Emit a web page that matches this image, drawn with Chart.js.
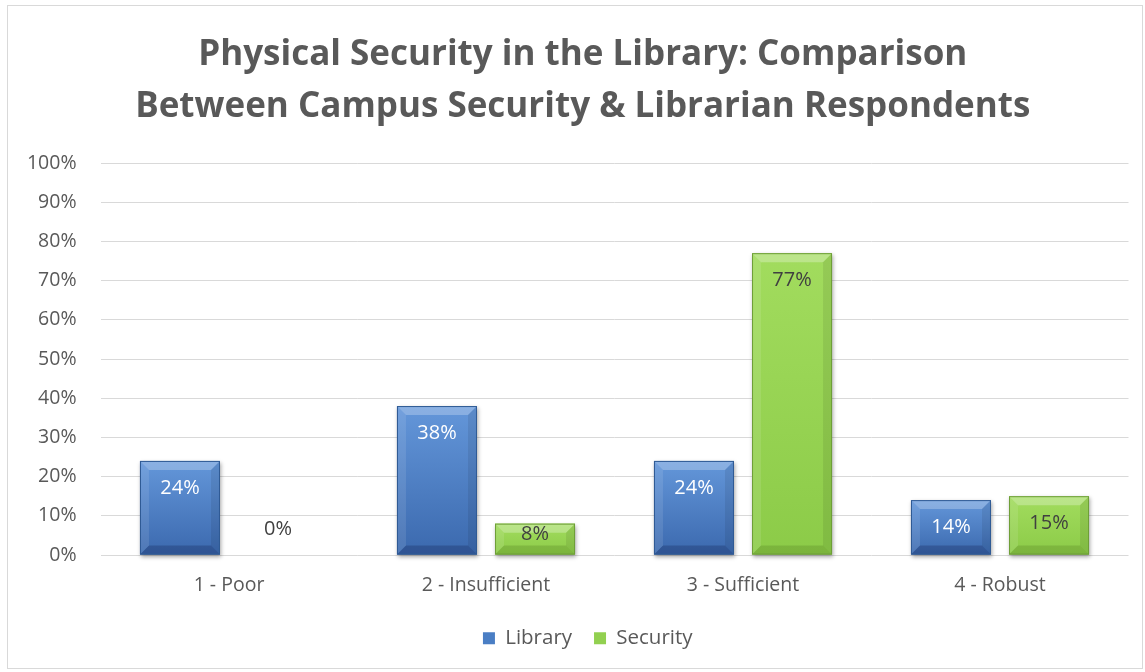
<!DOCTYPE html>
<html>
<head>
<meta charset="utf-8">
<script src="https://cdn.jsdelivr.net/npm/chart.js@4.4.1/dist/chart.umd.min.js"></script>
<style>
  html,body{margin:0;padding:0;background:#fff;}
  #frame{position:absolute;left:7px;top:5px;width:1134px;height:662px;border:1px solid #D9D9D9;background:#fff;}
  #c{display:block;}
</style>
</head>
<body>
<div id="frame"><canvas id="c" width="1134" height="662"></canvas></div>
<script>
const titleLines = ['Physical Security in the Library: Comparison', 'Between Campus Security & Librarian Respondents'];
const categories = ['1 - Poor', '2 - Insufficient', '3 - Sufficient', '4 - Robust'];
const seriesNames = ['Library', 'Security'];
const libraryValues = [24, 38, 24, 14];
const securityValues = [0, 8, 77, 15];
const yMin = 0, yMax = 100, yStep = 10;

const FONT = '"Open Sans", Lato, sans-serif';
const GRAY = '#595959';

const palette = [
  {solid:'#4A7EC4', top:'#6497DA', bottom:'#3B69AE', light:'rgba(255,255,255,0.25)', dark:'rgba(0,0,40,0.20)', edge:'#2F5A94', label:'#FFFFFF'},
  {solid:'#92D050', top:'#A2DC5E', bottom:'#8CCB48', light:'rgba(255,255,255,0.28)', dark:'rgba(40,60,0,0.16)', edge:'#6E9E38', label:'#404040'}
];

// nudges the title and legend boxes slightly right, as in the original
const boxShiftPlugin = {
  id:'boxShift',
  afterLayout(chart){
    const t = chart.titleBlock, lg = chart.legend;
    if (t) { t.left += 14.5; t.right += 14.5; }
    if (lg) { lg.left += 19.5; lg.right += 19.5; }
  }
};

const bevelPlugin = {
  id:'bevel',
  afterDatasetsDraw(chart){
    const ctx = chart.ctx;
    chart.data.datasets.forEach((ds, i) => {
      const meta = chart.getDatasetMeta(i);
      const p = palette[i];
      meta.data.forEach((bar) => {
        const {x, y, base, width} = bar.getProps(['x','y','base','width'], true);
        const l = x - width/2, r = x + width/2, t = Math.min(y, base), b = Math.max(y, base);
        const h = b - t;
        if (h < 1) return;
        const bv = Math.min(9, h/2);
        ctx.save();
        ctx.shadowColor = 'rgba(0,0,0,0.35)';
        ctx.shadowBlur = 4;
        ctx.shadowOffsetX = 1;
        ctx.shadowOffsetY = 2;
        const g = ctx.createLinearGradient(0, t, 0, b);
        g.addColorStop(0, p.top);
        g.addColorStop(1, p.bottom);
        ctx.fillStyle = g;
        ctx.fillRect(l, t, width, h);
        ctx.shadowColor = 'transparent';
        ctx.fillStyle = p.light;
        ctx.beginPath();
        ctx.moveTo(l, t); ctx.lineTo(r, t); ctx.lineTo(r - bv, t + bv); ctx.lineTo(l + bv, t + bv); ctx.closePath(); ctx.fill();
        ctx.fillStyle = 'rgba(255,255,255,0.10)';
        ctx.beginPath();
        ctx.moveTo(l, t); ctx.lineTo(l + bv, t + bv); ctx.lineTo(l + bv, b - bv); ctx.lineTo(l, b); ctx.closePath(); ctx.fill();
        ctx.fillStyle = 'rgba(0,0,0,0.08)';
        ctx.beginPath();
        ctx.moveTo(r, t); ctx.lineTo(r - bv, t + bv); ctx.lineTo(r - bv, b - bv); ctx.lineTo(r, b); ctx.closePath(); ctx.fill();
        ctx.fillStyle = p.dark;
        ctx.beginPath();
        ctx.moveTo(l, b); ctx.lineTo(r, b); ctx.lineTo(r - bv, b - bv); ctx.lineTo(l + bv, b - bv); ctx.closePath(); ctx.fill();
        ctx.strokeStyle = p.edge;
        ctx.lineWidth = 1;
        ctx.strokeRect(l + 0.5, t + 0.5, width - 1, h - 1);
        ctx.restore();
      });
    });
    ctx.save();
    ctx.font = '20px ' + FONT;
    ctx.textAlign = 'center';
    ctx.textBaseline = 'middle';
    chart.data.datasets.forEach((ds, i) => {
      const meta = chart.getDatasetMeta(i);
      meta.data.forEach((bar, j) => {
        const {x, y, base} = bar.getProps(['x','y','base'], true);
        const v = ds.data[j];
        let cy = Math.min(y + 27, base - 20);
        let color = palette[i].label;
        if (v === 0) { cy = base - 26; color = '#404040'; }
        ctx.fillStyle = color;
        ctx.fillText(v + '%', x, cy);
      });
    });
    ctx.restore();
  }
};

new Chart(document.getElementById('c'), {
  type:'bar',
  data:{
    labels: categories,
    datasets:[
      {label: seriesNames[0], data: libraryValues, backgroundColor: palette[0].solid, borderWidth:0},
      {label: seriesNames[1], data: securityValues, backgroundColor: palette[1].solid, borderWidth:0}
    ]
  },
  options:{
    responsive:false,
    animation:false,
    devicePixelRatio:1,
    categoryPercentage:0.763,
    barPercentage:0.816,
    layout:{padding:{top:0, right:13.5, bottom:9.5, left:0}},
    plugins:{
      title:{
        display:true,
        text:titleLines,
        color:GRAY,
        font:{family:FONT, size:35, weight:'bold', lineHeight:1.486},
        padding:{top:23, bottom:30}
      },
      legend:{
        position:'bottom',
        labels:{
          color:GRAY,
          font:{family:FONT, size:20.5},
          boxWidth:12, boxHeight:12,
          padding:22
        }
      },
      tooltip:{enabled:false}
    },
    scales:{
      x:{
        grid:{display:false, drawTicks:false},
        border:{display:false},
        ticks:{color:GRAY, font:{family:FONT, size:19.5}, padding:19},
        afterFit(s){ s.height = 51; }
      },
      y:{
        min:yMin, max:yMax,
        grid:{color:'#D9D9D9', lineWidth:1, drawTicks:false},
        border:{display:false},
        ticks:{stepSize:yStep, color:GRAY, font:{family:FONT, size:19.5}, padding:24, callback:(v)=>v+'%'},
        afterFit(s){ s.width = 92.5; }
      }
    }
  },
  plugins:[boxShiftPlugin, bevelPlugin]
});
</script>
</body>
</html>
